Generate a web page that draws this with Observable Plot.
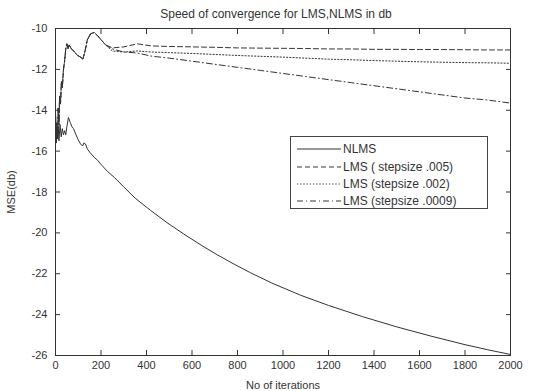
<!DOCTYPE html>
<html><head><meta charset="utf-8">
<script src="https://cdn.jsdelivr.net/npm/d3@7"></script>
<script src="https://cdn.jsdelivr.net/npm/@observablehq/plot@0.6"></script>
<style>
body{margin:0;background:#fff;}
#wrap{position:relative;width:544px;height:391px;font-family:"Liberation Sans",Arial,sans-serif;}
#legend{position:absolute;left:290px;top:136px;width:198px;height:73px;border:1px solid #444;background:#fff;box-sizing:border-box;font-size:12px;color:#333;}
.row{position:absolute;left:0;height:16px;display:flex;align-items:center;white-space:nowrap;}
.row svg{margin-left:6px;margin-right:2px;}
</style></head><body><div id="wrap"></div>
<script>
const title = "Speed of convergence for LMS,NLMS in db";
const xLabel = "No of iterations";
const yLabel = "MSE(db)";
const xTicks = [0,200,400,600,800,1000,1200,1400,1600,1800,2000];
const yTicks = [-26,-24,-22,-20,-18,-16,-14,-12,-10];
const seriesNames = ["NLMS","LMS ( stepsize .005)","LMS (stepsize .002)","LMS (stepsize .0009)"];
const seriesDash = [null,"5,3","1.2,2","6,3,1,3"];

// NLMS
const nlmsIter = [0,3,6,9,12,15,20,25,30,35,40,45,50,57,65,72,79,90,100,110,119,125,132,140,154,170,185,200,229,260,300,350,418,490,563,640,712,785,857,950,1077,1200,1350,1500,1650,1800,1900,2000];
const nlmsMSE = [-14.0,-15.3,-14.6,-15.4,-14.8,-15.5,-14.7,-15.3,-14.9,-15.2,-15.0,-15.2,-14.8,-14.35,-14.6,-14.8,-14.9,-15.2,-15.45,-15.65,-15.75,-15.6,-15.65,-15.9,-16.1,-16.3,-16.45,-16.65,-17.0,-17.3,-17.75,-18.3,-18.9,-19.5,-20.05,-20.6,-21.08,-21.53,-21.95,-22.45,-23.05,-23.55,-24.1,-24.6,-25.05,-25.47,-25.72,-25.95];

// LMS shared start-up transient
const lmsIterStart = [0,3,6,9,12,15,18,22,26,30,35,40,45,50,55,60,70,80,95,110,120,130,140,155,170,185,200,220];
const lmsStart = [-14.2,-15.6,-14.9,-15.4,-13.9,-14.7,-13.3,-13.7,-12.6,-12.9,-12.0,-11.6,-11.0,-10.75,-11.0,-10.8,-11.0,-11.1,-11.3,-11.4,-11.5,-11.1,-10.55,-10.25,-10.2,-10.35,-10.55,-10.8];
// LMS tails
const lmsIterTail = [250,300,360,420,500,600,700,800,900,1000,1100,1200,1300,1400,1500,1600,1700,1800,1900,2000];
const lms005Tail = [-10.95,-10.9,-10.75,-10.85,-10.88,-10.9,-10.92,-10.95,-10.96,-10.97,-10.98,-11.0,-11.0,-11.02,-11.02,-11.03,-11.03,-11.04,-11.05,-11.05];
const lms002Tail = [-11.1,-11.15,-11.1,-11.15,-11.18,-11.22,-11.27,-11.32,-11.36,-11.4,-11.45,-11.5,-11.53,-11.57,-11.6,-11.63,-11.65,-11.67,-11.68,-11.7];
const lms0009Tail = [-11.0,-11.15,-11.2,-11.35,-11.45,-11.6,-11.75,-11.9,-12.05,-12.2,-12.35,-12.5,-12.65,-12.8,-12.95,-13.1,-13.25,-13.4,-13.5,-13.65];

const toRows = (xs, ys, s) => xs.map((x, i) => ({x, y: ys[i], s}));
const lmsIter = lmsIterStart.concat(lmsIterTail);
const series = [
  toRows(nlmsIter, nlmsMSE, seriesNames[0]),
  toRows(lmsIter, lmsStart.concat(lms005Tail), seriesNames[1]),
  toRows(lmsIter, lmsStart.concat(lms002Tail), seriesNames[2]),
  toRows(lmsIter, lmsStart.concat(lms0009Tail), seriesNames[3])
];

const ink = "#333";
const fmt = d => String(d);
const chart = Plot.plot({
  width: 544, height: 391,
  marginLeft: 55, marginRight: 34, marginTop: 28, marginBottom: 36,
  style: {fontFamily: "'Liberation Sans', Arial, sans-serif", fontSize: "11px", color: ink, background: "#fff"},
  x: {domain: [0, 2000]},
  y: {domain: [-26, -10]},
  marks: [
    Plot.frame({stroke: ink}),
    ...series.map((d, i) => Plot.line(d, {x: "x", y: "y", stroke: ink, strokeWidth: 1, strokeDasharray: seriesDash[i]})),
    Plot.axisX({ticks: xTicks, anchor: "bottom", tickSize: -5, tickPadding: 11, tickFormat: fmt, label: xLabel, labelAnchor: "center", labelOffset: 33, labelArrow: "none"}),
    Plot.axisX({ticks: xTicks, anchor: "top", tickSize: -5, tickFormat: () => "", label: null}),
    Plot.axisY({ticks: yTicks, anchor: "left", tickSize: -5, tickPadding: 13, tickFormat: fmt, label: yLabel, labelAnchor: "center", labelOffset: 48, labelArrow: "none"}),
    Plot.axisY({ticks: yTicks, anchor: "right", tickSize: -5, tickFormat: () => "", label: null}),
    Plot.text([title], {text: d => d, frameAnchor: "top", dy: -19, dx: -7, fontSize: 12, fill: ink})
  ]
});
const wrap = document.getElementById("wrap");
wrap.appendChild(chart);

const legend = document.createElement("div");
legend.id = "legend";
const rowTops = [4, 22, 39, 56];
seriesNames.forEach((name, i) => {
  const row = document.createElement("div");
  row.className = "row";
  row.style.top = rowTops[i] + "px";
  const dash = seriesDash[i] ? ` stroke-dasharray="${seriesDash[i]}"` : "";
  row.innerHTML = `<svg width="44" height="10"><line x1="0" y1="5" x2="44" y2="5" stroke="${ink}" stroke-width="1"${dash}/></svg><span>${name}</span>`;
  legend.appendChild(row);
});
wrap.appendChild(legend);
</script>
</body></html>
